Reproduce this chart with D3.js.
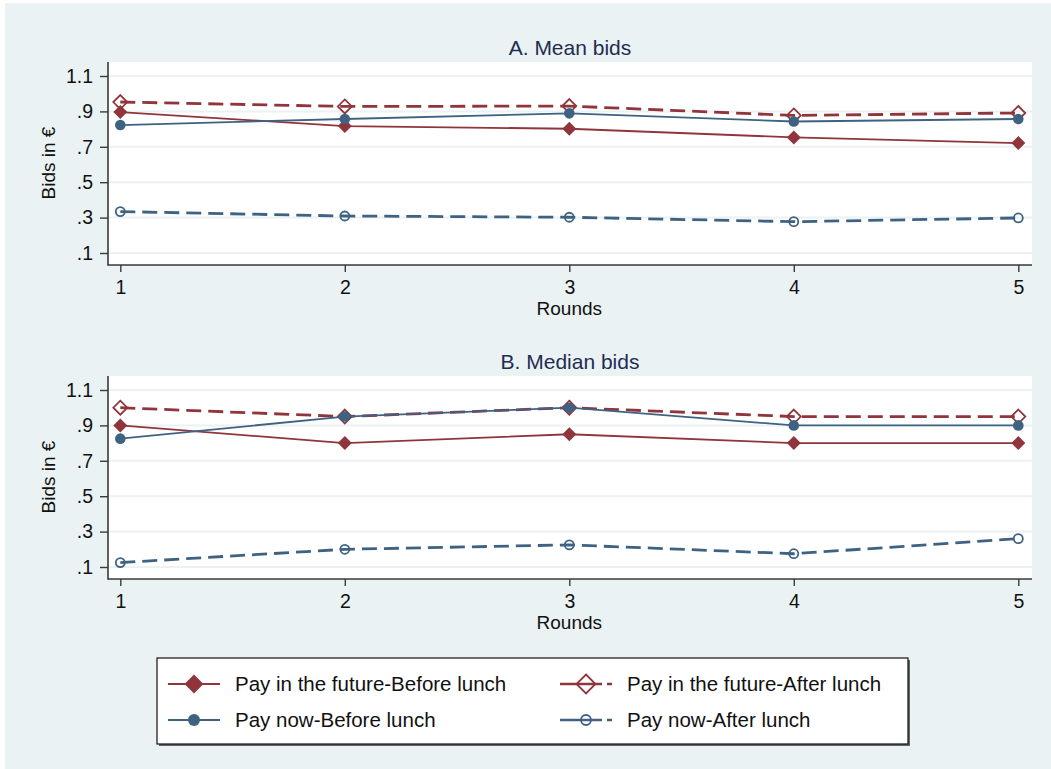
<!DOCTYPE html>
<html>
<head>
<meta charset="utf-8">
<script src="https://cdn.jsdelivr.net/npm/d3@7"></script>
<style>
body { margin: 0; background: #fff; }
svg { display: block; font-family: "Liberation Sans", Arial, Helvetica, sans-serif; }
</style>
</head>
<body>
<div id="chart"></div>
<script>
var rounds = [1, 2, 3, 4, 5];
var yTicks = [0.1, 0.3, 0.5, 0.7, 0.9, 1.1];
var seriesNames = ['Pay in the future-Before lunch', 'Pay in the future-After lunch',
                   'Pay now-Before lunch', 'Pay now-After lunch'];

// panel A: mean bids
var meanFutureBefore = [0.896, 0.817, 0.802, 0.753, 0.721];
var meanFutureAfter  = [0.953, 0.928, 0.930, 0.877, 0.891];
var meanNowBefore    = [0.823, 0.857, 0.889, 0.843, 0.857];
var meanNowAfter     = [0.334, 0.309, 0.302, 0.277, 0.298];

// panel B: median bids
var medianFutureBefore = [0.90, 0.80, 0.85, 0.80, 0.80];
var medianFutureAfter  = [1.00, 0.95, 1.00, 0.95, 0.95];
var medianNowBefore    = [0.825, 0.95, 1.00, 0.90, 0.90];
var medianNowAfter     = [0.125, 0.20, 0.225, 0.175, 0.26];

var col_red   = '#90353b';
var col_blue  = '#3e6282';
var col_bg    = '#eaf2f3';
var col_title = '#1f2d52';
var col_axis  = '#3a3a3a';

// style per series: colour, marker, hollow, dashed
var seriesStyle = [
    {color: col_red,  marker: 'diamond', hollow: false, dashed: false},
    {color: col_red,  marker: 'diamond', hollow: true,  dashed: true},
    {color: col_blue, marker: 'circle',  hollow: false, dashed: false},
    {color: col_blue, marker: 'circle',  hollow: true,  dashed: true}
];

var width = 1051, height = 769;
var plotLeft = 108, plotRight = 1032;

var svg = d3.select('#chart').append('svg')
    .attr('width', width)
    .attr('height', height);

svg.append('rect')
    .attr('x', 5).attr('y', 3)
    .attr('width', width - 5).attr('height', height - 3)
    .attr('fill', col_bg);

var x = d3.scaleLinear().domain([1, 5]).range([120.3, 1018.3]);

function markerPath(kind, s) {
    if (kind === 'diamond') {
        return 'M0,' + (-s) + 'L' + s + ',0L0,' + s + 'L' + (-s) + ',0Z';
    }
    return d3.symbol().type(d3.symbolCircle).size(Math.PI * s * s)();
}

function drawMarker(g, st, cx, cy, big) {
    var s;
    if (st.marker === 'diamond') s = big ? 9.5 : 7;
    else s = st.hollow ? (big ? 5 : 4.5) : (big ? 6 : 5.3);
    var p = g.append('path')
        .attr('d', markerPath(st.marker, s))
        .attr('transform', 'translate(' + cx + ',' + cy + ')');
    if (st.hollow) {
        p.attr('fill', 'none').attr('stroke', st.color).attr('stroke-width', 1.8);
    } else {
        p.attr('fill', st.color);
    }
}

function drawPanel(top, title, seriesData) {
    var axisY = top + 203;
    var y = d3.scaleLinear().domain([0.1, 1.1]).range([top + 191, top + 14]);
    var g = svg.append('g');

    // plot region
    g.append('rect')
        .attr('x', plotLeft).attr('y', top)
        .attr('width', plotRight - plotLeft).attr('height', axisY - top)
        .attr('fill', '#fff');

    // grid
    g.selectAll('.grid').data(yTicks).enter().append('line')
        .attr('x1', plotLeft).attr('x2', plotRight)
        .attr('y1', function(d) { return y(d); })
        .attr('y2', function(d) { return y(d); })
        .attr('stroke', col_bg)
        .attr('stroke-width', 2);

    // title
    g.append('text')
        .attr('x', 570).attr('y', top - 7)
        .attr('text-anchor', 'middle')
        .style('font-size', '21px')
        .attr('fill', col_title)
        .text(title);

    // y axis
    var yAxis = d3.axisLeft(y)
        .tickValues(yTicks)
        .tickSize(8)
        .tickPadding(7)
        .tickFormat(function(d) { return d3.format('.1f')(d).replace(/^0/, ''); });
    var ya = g.append('g')
        .attr('transform', 'translate(' + plotLeft + ',0)')
        .call(yAxis);
    ya.select('.domain').remove();
    ya.selectAll('line').attr('stroke', col_axis).attr('stroke-width', 1.4);
    ya.selectAll('text').style('font-size', '19.5px').attr('fill', '#111')
        .style('font-family', '"Liberation Sans", Arial, sans-serif');

    // x axis
    var xAxis = d3.axisBottom(x)
        .tickValues(rounds)
        .tickSize(7)
        .tickPadding(8)
        .tickFormat(d3.format('d'));
    var xa = g.append('g')
        .attr('transform', 'translate(0,' + axisY + ')')
        .call(xAxis);
    xa.select('.domain').remove();
    xa.selectAll('line').attr('stroke', col_axis).attr('stroke-width', 1.4);
    xa.selectAll('text').style('font-size', '19.5px').attr('fill', '#111')
        .style('font-family', '"Liberation Sans", Arial, sans-serif');

    // axis lines
    g.append('line')
        .attr('x1', plotLeft).attr('x2', plotLeft)
        .attr('y1', top).attr('y2', axisY + 0.7)
        .attr('stroke', col_axis).attr('stroke-width', 1.6);
    g.append('line')
        .attr('x1', plotLeft).attr('x2', plotRight)
        .attr('y1', axisY).attr('y2', axisY)
        .attr('stroke', col_axis).attr('stroke-width', 1.6);

    // axis titles
    g.append('text')
        .attr('x', x(3)).attr('y', axisY + 50)
        .attr('text-anchor', 'middle')
        .style('font-size', '19px')
        .attr('fill', '#111')
        .text('Rounds');
    g.append('text')
        .attr('transform', 'translate(55,' + (top + 101) + ') rotate(-90)')
        .attr('text-anchor', 'middle')
        .style('font-size', '19px')
        .attr('fill', '#111')
        .text('Bids in €');

    // series
    var line = d3.line()
        .x(function(d, i) { return x(rounds[i]); })
        .y(function(d) { return y(d); });

    seriesData.forEach(function(vals, k) {
        var st = seriesStyle[k];
        g.append('path')
            .datum(vals)
            .attr('d', line)
            .attr('fill', 'none')
            .attr('stroke', st.color)
            .attr('stroke-width', st.dashed ? 2.8 : 1.8)
            .attr('stroke-dasharray', st.dashed ? '15,7' : null);
        vals.forEach(function(v, i) {
            drawMarker(g, st, x(rounds[i]), y(v), false);
        });
    });
}

drawPanel(62, 'A. Mean bids', [meanFutureBefore, meanFutureAfter, meanNowBefore, meanNowAfter]);
drawPanel(376, 'B. Median bids', [medianFutureBefore, medianFutureAfter, medianNowBefore, medianNowAfter]);

// legend
var legX = 157, legY = 658, legW = 751, legH = 86;
var legend = svg.append('g');
legend.append('rect')
    .attr('x', legX + 2).attr('y', legY + 2)
    .attr('width', legW).attr('height', legH)
    .attr('fill', '#666');
legend.append('rect')
    .attr('x', legX).attr('y', legY)
    .attr('width', legW).attr('height', legH)
    .attr('fill', '#fff')
    .attr('stroke', '#111')
    .attr('stroke-width', 1.2);

var legCols = [168, 560];
var legRows = [684, 720];
seriesNames.forEach(function(name, k) {
    var st = seriesStyle[k];
    var lx = legCols[k % 2], ly = legRows[Math.floor(k / 2)];
    legend.append('line')
        .attr('x1', lx).attr('x2', lx + 52)
        .attr('y1', ly).attr('y2', ly)
        .attr('stroke', st.color)
        .attr('stroke-width', st.dashed ? 2.6 : 2)
        .attr('stroke-dasharray', st.dashed ? '42,5,5,10' : null);
    drawMarker(legend, st, lx + 26, ly, true);
    legend.append('text')
        .attr('x', lx + 67).attr('y', ly + 7)
        .style('font-size', '20.5px')
        .attr('fill', '#111')
        .text(name);
});
</script>
</body>
</html>
